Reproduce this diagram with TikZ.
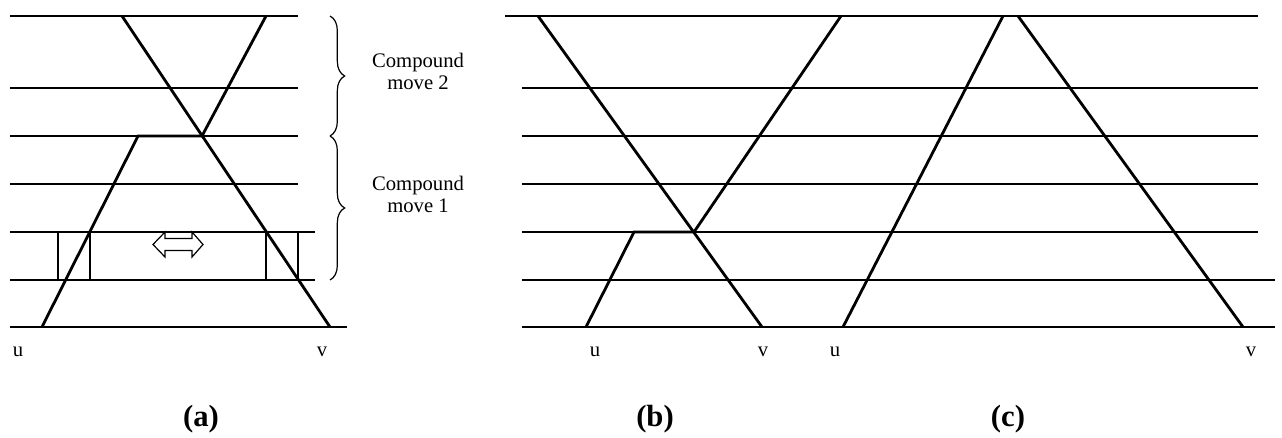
\documentclass[tikz,border=0pt]{standalone}
\usepackage{fontspec}
\setmainfont{Liberation Serif}
\usetikzlibrary{decorations.pathreplacing}

\tikzset{
  rung/.style={line width=1.4pt},
  strand/.style={line width=2.1pt, line join=miter},
  slot/.style={line width=0.9pt},
  curly/.style={line width=0.9pt, decorate, decoration={brace, amplitude=11pt}},
  lbl/.style={font=\fontsize{15.5}{16.5}\selectfont, inner sep=0pt},
  panel/.style={font=\fontsize{23}{25}\selectfont\bfseries, inner sep=0pt}
}

\begin{document}
\begin{tikzpicture}[x=0.75pt, y=-0.75pt]
  \useasboundingbox (0,0) rectangle (1282,438);

  \foreach \y in {16,88,136,184} \draw[rung] (10,\y) -- (298,\y);
  \foreach \y in {232,280} \draw[rung] (10,\y) -- (315,\y);
  \draw[rung] (10,327) -- (347,327);

  \draw[rung] (505,16) -- (1258,16);
  \foreach \y in {88,136,184,232} \draw[rung] (522,\y) -- (1258,\y);
  \foreach \y in {280,327} \draw[rung] (522,\y) -- (1275,\y);

  \coordinate (a1) at (122,16);
  \coordinate (a2) at (266,16);
  \coordinate (ax) at (202,136);
  \coordinate (ak) at (138,136);
  \coordinate (au) at (42,327);
  \coordinate (av) at (330,327);
  \draw[strand] (a1) -- (av);
  \draw[strand] (a2) -- (ax) -- (ak) -- (au);

  \coordinate (b1) at (538,16);
  \coordinate (b2) at (841,16);
  \coordinate (bx) at (694,232);
  \coordinate (bk) at (634,232);
  \coordinate (bu) at (586,327);
  \coordinate (bv) at (762,327);
  \draw[strand] (b1) -- (bv);
  \draw[strand] (b2) -- (bx) -- (bk) -- (bu);

  \coordinate (c1) at (1003,16);
  \coordinate (c2) at (1018,16);
  \coordinate (cu) at (843,327);
  \coordinate (cv) at (1243,327);
  \draw[strand] (c1) -- (cu);
  \draw[strand] (c2) -- (cv);

  \draw[slot] (58,232) rectangle (90,280);
  \draw[slot] (266,232) rectangle (298,280);
  \draw[slot, fill=white] (153,244.5) -- (165,232) -- (165,238.5) -- (192,238.5) -- (192,232)
    -- (203,244.5) -- (192,257) -- (192,250.5) -- (165,250.5) -- (165,257) -- cycle;

  \coordinate (br0) at (330,16);
  \coordinate (br1) at (330,136);
  \coordinate (br2) at (330,280);
  \draw[curly] (br0) -- (br1);
  \draw[curly] (br1) -- (br2);
  \node[lbl, align=center] (move2) at (418,71) {Compound\\move 2};
  \node[lbl, align=center] (move1) at (418,194) {Compound\\move 1};

  \node[lbl] (ua) at (18,352) {u};
  \node[lbl] (va) at (322,352) {v};
  \node[lbl] (ub) at (595,352) {u};
  \node[lbl] (vb) at (763,352) {v};
  \node[lbl] (uc) at (835,352) {u};
  \node[lbl] (vc) at (1251,352) {v};

  \node[panel] (capa) at (201,419) {(a)};
  \node[panel] (capb) at (655,419) {(b)};
  \node[panel] (capc) at (1008,419) {(c)};
\end{tikzpicture}
\end{document}
